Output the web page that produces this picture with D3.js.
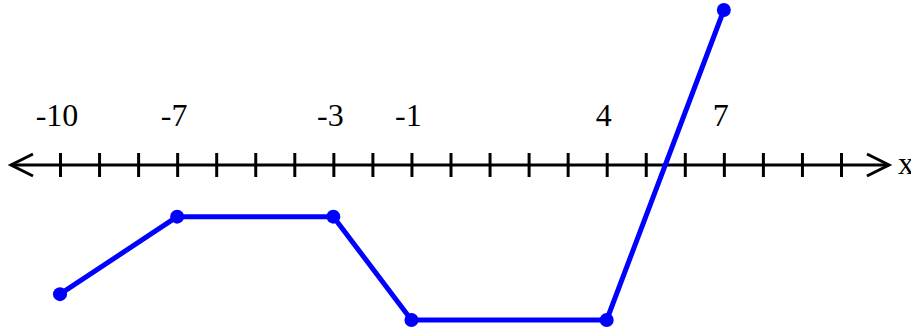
<!DOCTYPE html>
<html>
<head>
<meta charset="utf-8">
<script src="https://cdn.jsdelivr.net/npm/d3@7"></script>
<style>
  html, body { margin: 0; padding: 0; background: #fff; }
  svg { display: block; }
  text { font-family: "Liberation Serif", "Times New Roman", Times, serif; }
</style>
</head>
<body>
<div id="chart"></div>
<script>
var width = 911, height = 328;

// data
var xValues = [-10, -7, -3, -1, 4, 7];
var yValues = [-5, -2, -2, -6, -6, 6];
var tickValues = d3.range(-10, 11);
var labelValues = [-10, -7, -3, -1, 4, 7];

var svg = d3.select("#chart")
    .append("svg")
    .attr("width", width)
    .attr("height", height);

var x = d3.scaleLinear()
    .domain([-10, 10])
    .range([60, 841]);

var y = d3.scaleLinear()
    .domain([-6, 6])
    .range([320, 10]);

var axisY = y(0);

// number line
svg.append("line")
    .attr("x1", 11)
    .attr("x2", 889)
    .attr("y1", axisY)
    .attr("y2", axisY)
    .attr("stroke", "#000")
    .attr("stroke-width", 3);

// arrow heads
svg.append("path")
    .attr("d", "M33," + (axisY - 11) + "L11," + axisY + "L33," + (axisY + 11))
    .attr("fill", "none")
    .attr("stroke", "#000")
    .attr("stroke-width", 3);

svg.append("path")
    .attr("d", "M867," + (axisY - 11) + "L889," + axisY + "L867," + (axisY + 11))
    .attr("fill", "none")
    .attr("stroke", "#000")
    .attr("stroke-width", 3);

// ticks cross the line
var axis = d3.axisBottom(x)
    .tickValues(tickValues)
    .tickSize(24)
    .tickFormat("");

var gAxis = svg.append("g")
    .attr("transform", "translate(0," + (axisY - 12) + ")")
    .call(axis);
gAxis.select(".domain").remove();
gAxis.selectAll(".tick line")
    .attr("stroke", "#000")
    .attr("stroke-width", 3);

// labels above
svg.append("g")
    .selectAll("text")
    .data(labelValues)
    .enter().append("text")
    .attr("x", function (d) { return x(d) - 3; })
    .attr("y", 126)
    .attr("text-anchor", "middle")
    .attr("font-size", 32)
    .attr("fill", "#000")
    .text(function (d) { return d; });

svg.append("text")
    .attr("x", 898)
    .attr("y", axisY + 9)
    .attr("font-size", 32)
    .attr("fill", "#000")
    .text("x");

// the graph
var points = xValues.map(function (d, i) {
    return { x: d, y: yValues[i] };
});

var line = d3.line()
    .x(function (d) { return x(d.x); })
    .y(function (d) { return y(d.y); });

svg.append("path")
    .datum(points)
    .attr("d", line)
    .attr("fill", "none")
    .attr("stroke", "#0000ff")
    .attr("stroke-width", 5)
    .attr("stroke-linejoin", "round");

svg.append("g")
    .selectAll("circle")
    .data(points)
    .enter().append("circle")
    .attr("cx", function (d) { return x(d.x); })
    .attr("cy", function (d) { return y(d.y); })
    .attr("r", 7)
    .attr("fill", "#0000ff");
</script>
</body>
</html>
